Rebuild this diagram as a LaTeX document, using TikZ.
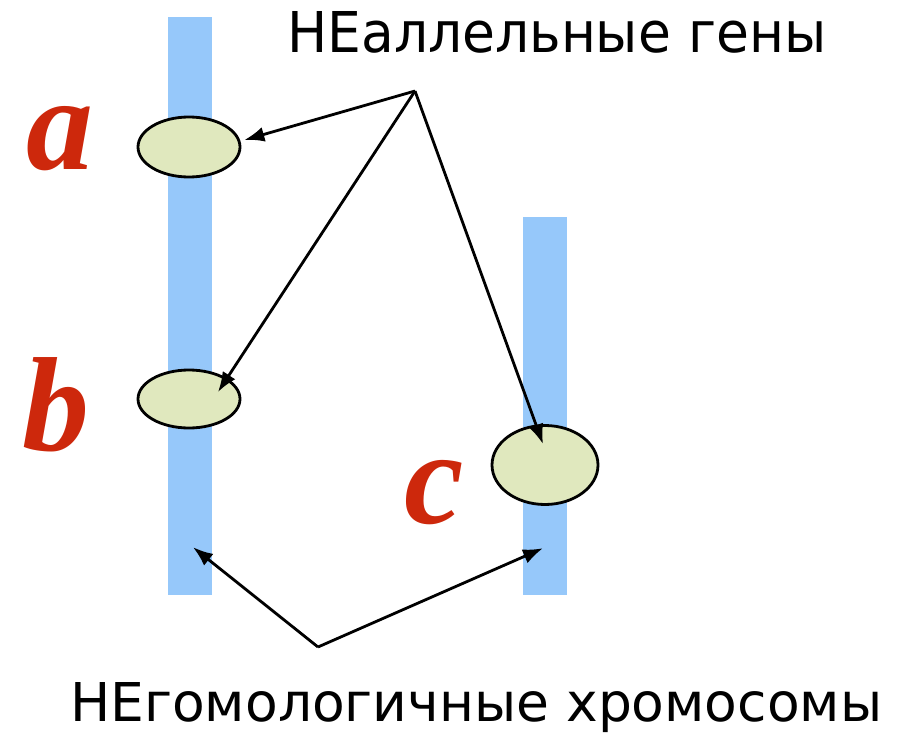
\documentclass[tikz,border=0pt]{standalone}
\usepackage{graphicx}
\usepackage{fontspec}
\setmainfont{DejaVu Sans}
\newfontfamily\letterfont{Liberation Serif}
\usetikzlibrary{arrows.meta, calc, shapes.geometric}
\definecolor{chromblue}{RGB}{150,200,250}
\definecolor{genefill}{RGB}{224,232,190}
\definecolor{letterred}{RGB}{205,40,12}

\begin{document}
\begin{tikzpicture}[x=1pt, y=-1pt,
  chrom/.style={rectangle, fill=chromblue, minimum width=44pt, inner sep=0pt},
  gene/.style={ellipse, draw=black, line width=2.8pt, fill=genefill, inner sep=0pt},
  letter/.style={anchor=base, text=letterred, font=\letterfont\fontsize{134}{134}\selectfont\bfseries\itshape},
  arr/.style={-{Latex[length=20pt,width=15pt]}, line width=2.8pt}]
\useasboundingbox (0,0) rectangle (905,733);

% chromosomes
\node[chrom, minimum height=578pt] (chromL) at (190,306) {};
\node[chrom, minimum height=378pt] (chromR) at (545,406) {};

% genes
\node[gene, minimum width=102pt, minimum height=60pt] (geneA) at (189,147) {};
\node[gene, minimum width=102pt, minimum height=58pt] (geneB) at (189,399) {};
\node[gene, minimum width=106pt, minimum height=79pt] (geneC) at (545,465) {};

\node[letter] (labA) at (60,170) {a};
\node[letter] (labB) at (56,450) {b};
\node[letter] (labC) at (434,523) {c};

% captions
\node[anchor=base west, inner sep=0pt] (capGenes) at (287,53) {\resizebox{539pt}{41pt}{НЕаллельные гены}};
\node[anchor=base west, inner sep=0pt] (capChroms) at (70,721) {\resizebox{812pt}{39pt}{НЕгомологичные хромосомы}};

\coordinate (hubGenes) at (415,91);
\coordinate (hubChroms) at (318,647);

\draw[arr] (hubGenes) -- ($(geneA.east)+(3,-7)$);
\draw[arr] (hubGenes) -- ($(geneB.center)+(29,-7)$);
\draw[arr] (hubGenes) -- ($(geneC.north)+(-2,20)$);
\draw[arr] (hubChroms) -- ($(chromL.south)+(3,-48)$);
\draw[arr] (hubChroms) -- ($(chromR.south)+(-2,-47)$);
\end{tikzpicture}
\end{document}
